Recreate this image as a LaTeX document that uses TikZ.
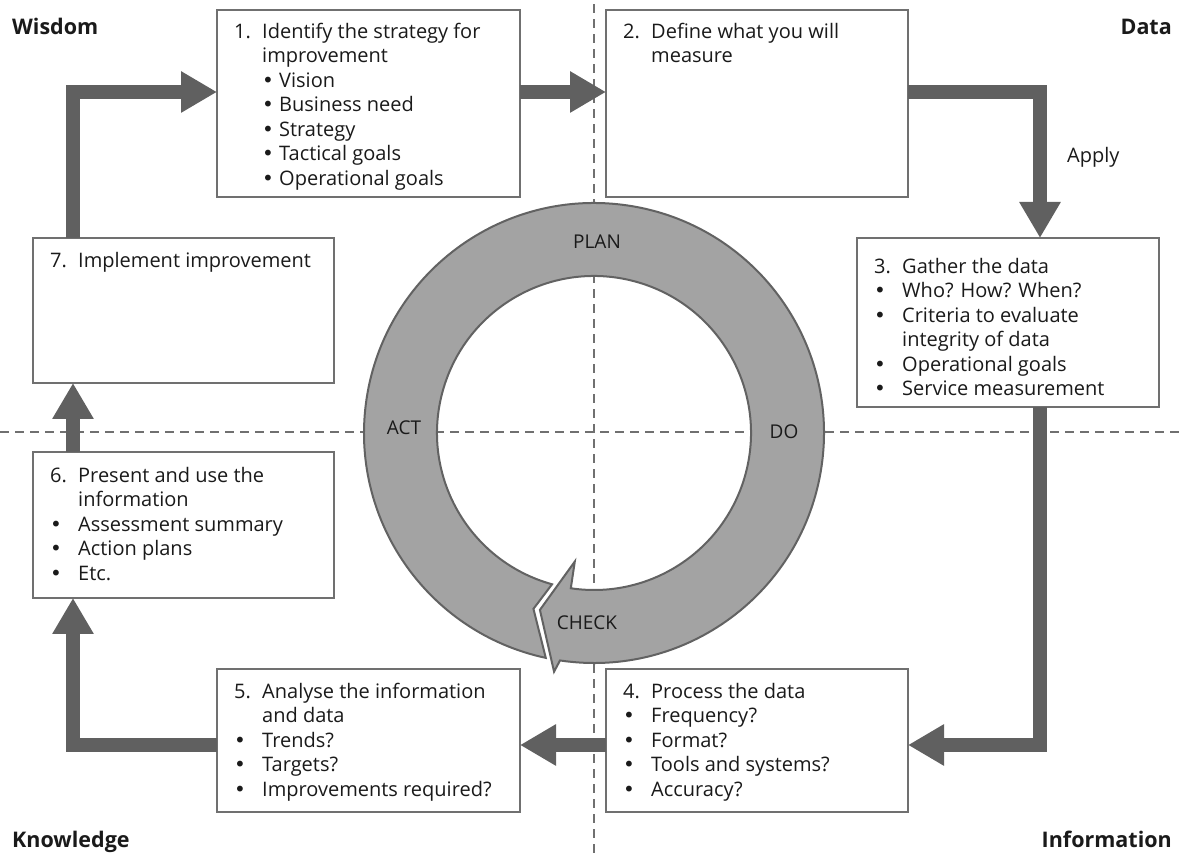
\documentclass[tikz,border=0pt]{standalone}
\usepackage{fontspec}
\setmainfont{Open Sans}
\newfontfamily\symfont{DejaVu Sans}
\usetikzlibrary{arrows.meta}
\definecolor{boxline}{HTML}{707070}
\definecolor{flow}{HTML}{606060}
\definecolor{ringfill}{HTML}{A3A3A3}
\definecolor{ringline}{HTML}{626262}
\definecolor{ink}{HTML}{1A1A1A}
% one text line: a fixed-width number/bullet column, then the text
\newcommand\itm[2]{\strut\makebox[28pt][l]{#1}#2}
\newcommand\bul{{\symfont •}}

\begin{document}
\begin{tikzpicture}[x=1pt,y=1pt,
  panel/.style={draw=boxline, line width=2pt, fill=white, rectangle,
                inner sep=0pt, outer sep=0pt, anchor=north west},
  boxtext/.style={font=\fontsize{20}{24.5}\selectfont, text=ink, align=left,
                  inner sep=0pt, anchor=north west},
  corner/.style={font=\fontsize{21.5}{24}\selectfont\bfseries, text=ink, inner sep=0pt},
  phase/.style={font=\fontsize{19}{24}\selectfont, text=ink, inner sep=0pt, anchor=base},
  bigarrow/.style={draw=flow, line width=14pt, line join=miter,
                   -{Triangle[length=36pt,width=39pt]}},
  guide/.style={draw=boxline, line width=2pt, dash pattern=on 9pt off 6pt},
  ring/.style={fill=ringfill, draw=ringline, line width=2pt, line join=miter}
]
\fill[white] (0,0) rectangle (1180,853);
\useasboundingbox (0,0) rectangle (1180,853);

% quadrant guides
\draw[guide] (594,0) -- (594,853);
\draw[guide] (0,420.5) -- (1180,420.5);

% PDCA ring with its arrowhead and notched tail
\begin{scope}[shift={(594,420)}]
  \path[ring] (261.5:230) arc[start angle=261.5, end angle=617.9, radius=230pt]
    -- (611:186) -- (614.5:157)
    arc[start angle=614.5, end angle=261.5, radius=157pt]
    -- (261.5:130) -- (253:185) -- (260.5:242) -- cycle;
\end{scope}
\node[phase] (plan)  at (597,604) {PLAN};
\node[phase] (do)    at (784,414) {DO};
\node[phase] (check) at (587,223) {CHECK};
\node[phase] (act)   at (404,418) {ACT};

% step boxes
\node[panel, minimum width=303pt, minimum height=187pt] (b1) at (217,843) {};
\node[panel, minimum width=302pt, minimum height=187pt] (b2) at (606,843) {};
\node[panel, minimum width=302pt, minimum height=169pt] (b3) at (857,615) {};
\node[panel, minimum width=302pt, minimum height=143pt] (b4) at (606,184) {};
\node[panel, minimum width=303pt, minimum height=143pt] (b5) at (217,184) {};
\node[panel, minimum width=301pt, minimum height=146pt] (b6) at (33,401) {};
\node[panel, minimum width=301pt, minimum height=145pt] (b7) at (33,615) {};

\node[boxtext] (t1) at ([shift={(17,-11)}]b1.north west)
  {\itm{1.}{Identify the strategy for}\\ \itm{}{improvement}\\
   \itm{}{\bul\ Vision}\\ \itm{}{\bul\ Business need}\\ \itm{}{\bul\ Strategy}\\
   \itm{}{\bul\ Tactical goals}\\ \itm{}{\bul\ Operational goals}};
\node[boxtext] (t2) at ([shift={(17,-11)}]b2.north west)
  {\itm{2.}{Define what you will}\\ \itm{}{measure}};
\node[boxtext] (t3) at ([shift={(17,-18)}]b3.north west)
  {\itm{3.}{Gather the data}\\ \itm{\bul}{Who? How? When?}\\
   \itm{\bul}{Criteria to evaluate}\\ \itm{}{integrity of data}\\
   \itm{\bul}{Operational goals}\\ \itm{\bul}{Service measurement}};
\node[boxtext] (t4) at ([shift={(17,-12)}]b4.north west)
  {\itm{4.}{Process the data}\\ \itm{\bul}{Frequency?}\\ \itm{\bul}{Format?}\\
   \itm{\bul}{Tools and systems?}\\ \itm{\bul}{Accuracy?}};
\node[boxtext] (t5) at ([shift={(17,-12)}]b5.north west)
  {\itm{5.}{Analyse the information}\\ \itm{}{and data}\\ \itm{\bul}{Trends?}\\
   \itm{\bul}{Targets?}\\ \itm{\bul}{Improvements required?}};
\node[boxtext] (t6) at ([shift={(17,-13)}]b6.north west)
  {\itm{6.}{Present and use the}\\ \itm{}{information}\\
   \itm{\bul}{Assessment summary}\\ \itm{\bul}{Action plans}\\ \itm{\bul}{Etc.}};
\node[boxtext] (t7) at ([shift={(17,-12)}]b7.north west)
  {\itm{7.}{Implement improvement}};

% flow between the steps
\coordinate (c71) at (73,761);
\coordinate (c23) at (1040,761);
\coordinate (c34) at (1040,108);
\coordinate (c56) at (73,108);
\draw[bigarrow] (b7.north -| c71) -- (c71) -- (b1.west |- c71);
\draw[bigarrow] (b1.east |- c71) -- (b2.west |- c71);
\draw[bigarrow] (b2.east |- c23) -- (c23) -- (b3.north -| c23);
\draw[bigarrow] (b3.south -| c34) -- (c34) -- (b4.east |- c34);
\draw[bigarrow] (b4.west |- c34) -- (b5.east |- c34);
\draw[bigarrow] (b5.west |- c56) -- (c56) -- (b6.south -| c56);
\draw[bigarrow] (b6.north -| c71) -- (b7.south -| c71);

\node[phase, font=\fontsize{20}{24}\selectfont, anchor=base west] (apply) at (1067,690) {Apply};

% quadrant names
\node[corner, anchor=base west] (wisdom)    at (12,818)  {Wisdom};
\node[corner, anchor=base east] (data)      at (1172,818) {Data};
\node[corner, anchor=base west] (knowledge) at (12,5)    {Knowledge};
\node[corner, anchor=base east] (info)      at (1172,5)  {Information};
\end{tikzpicture}
\end{document}
